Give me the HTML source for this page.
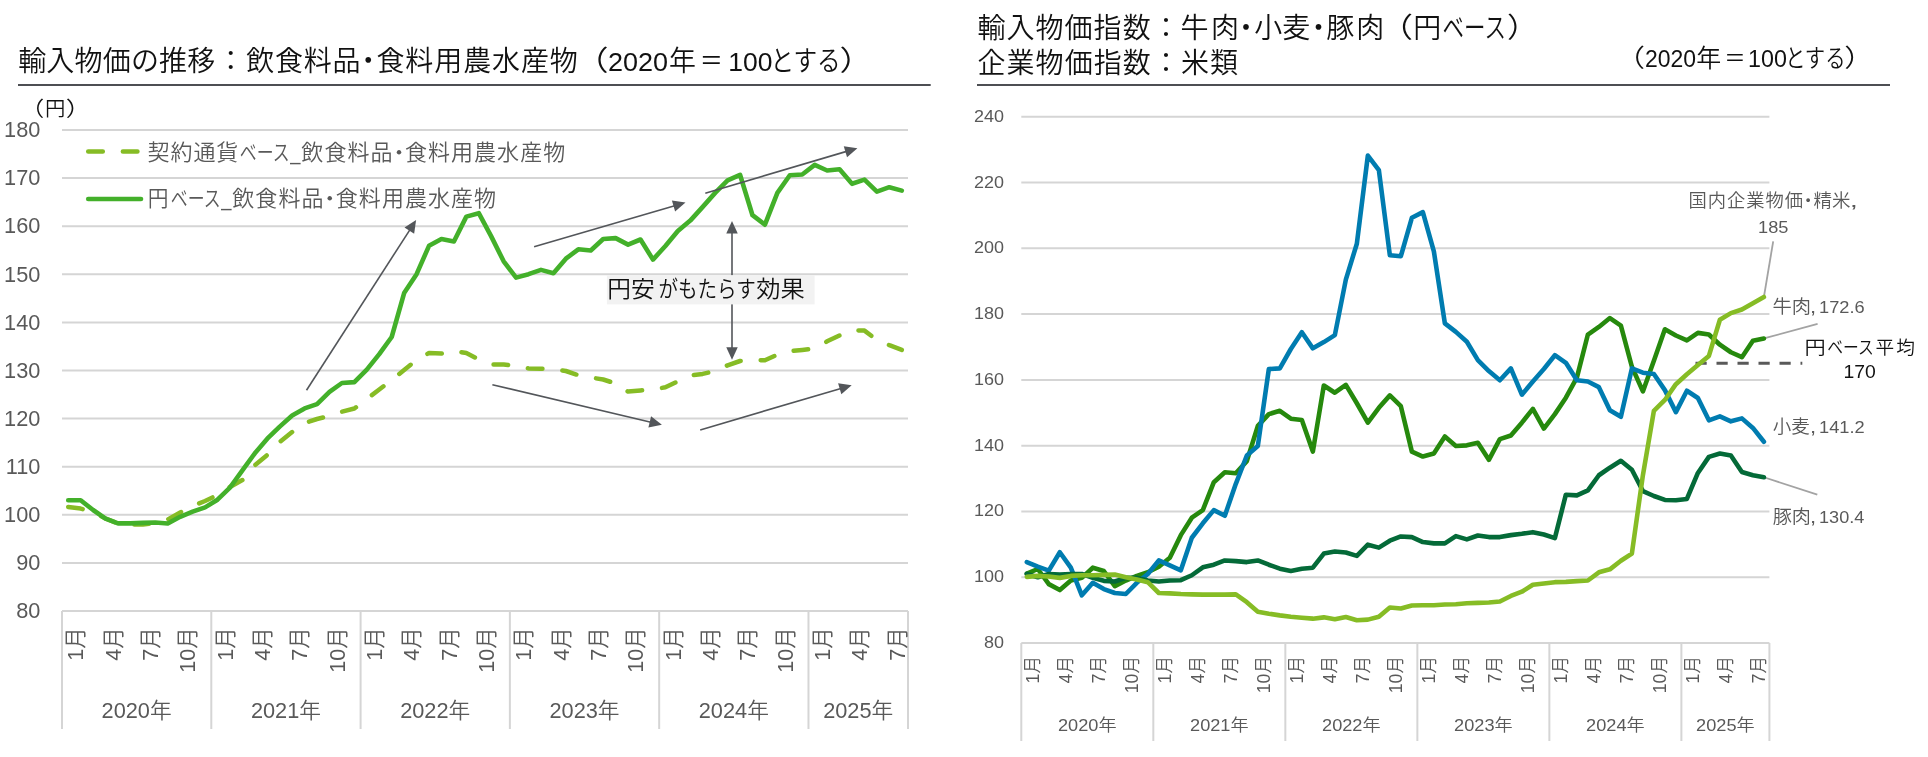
<!DOCTYPE html>
<html lang="ja"><head><meta charset="utf-8"><title>輸入物価の推移</title>
<style>html,body{margin:0;padding:0;background:#fff;}body{width:1928px;height:757px;overflow:hidden;}svg{display:block;font-family:'Liberation Sans', 'Noto Sans CJK JP', sans-serif;font-weight:350;will-change:transform;}</style></head><body>
<svg width="1928" height="757" viewBox="0 0 1928 757">
<rect width="1928" height="757" fill="#ffffff"/>
<text transform="translate(18.18 70.7)" font-size="28" fill="#111111" letter-spacing="0.188">輸入物価の推移</text>
<text transform="translate(216.7 70.7)" font-size="28" fill="#111111">：</text>
<text transform="translate(246.24 70.7)" font-size="28" fill="#111111" letter-spacing="0.718">飲食料品</text>
<text transform="translate(354.2 70.7)" font-size="28" fill="#111111">・</text>
<text transform="translate(376.48 70.7)" font-size="28" fill="#111111" letter-spacing="0.884">食料用農水産物</text>
<text transform="translate(574.49 70.7) scale(1.2185 1)" font-size="28" fill="#111111">（</text>
<text transform="translate(608.05 70.7) scale(1.0123 1)" font-size="26.67" fill="#111111">2020</text>
<text transform="translate(669.05 70.7) scale(0.9629 1)" font-size="28" fill="#111111">年</text>
<text transform="translate(699.77 70.7) scale(0.8268 1)" font-size="28" fill="#111111">＝</text>
<text transform="translate(728.31 70.7) scale(0.9927 1)" font-size="26.67" fill="#111111">100</text>
<text transform="translate(770.47 70.7) scale(0.8447 1)" font-size="28" fill="#111111">とする</text>
<text transform="translate(839.39 70.7) scale(1.2185 1)" font-size="28" fill="#111111">）</text>
<line x1="18" y1="85.1" x2="930.7" y2="85.1" stroke="#4d4f53" stroke-width="2"/>
<line x1="62" y1="130" x2="908" y2="130" stroke="#d5d5d5" stroke-width="2"/>
<line x1="62" y1="178.1" x2="908" y2="178.1" stroke="#d5d5d5" stroke-width="2"/>
<line x1="62" y1="226.2" x2="908" y2="226.2" stroke="#d5d5d5" stroke-width="2"/>
<line x1="62" y1="274.3" x2="908" y2="274.3" stroke="#d5d5d5" stroke-width="2"/>
<line x1="62" y1="322.4" x2="908" y2="322.4" stroke="#d5d5d5" stroke-width="2"/>
<line x1="62" y1="370.5" x2="908" y2="370.5" stroke="#d5d5d5" stroke-width="2"/>
<line x1="62" y1="418.6" x2="908" y2="418.6" stroke="#d5d5d5" stroke-width="2"/>
<line x1="62" y1="466.7" x2="908" y2="466.7" stroke="#d5d5d5" stroke-width="2"/>
<line x1="62" y1="514.8" x2="908" y2="514.8" stroke="#d5d5d5" stroke-width="2"/>
<line x1="62" y1="562.9" x2="908" y2="562.9" stroke="#d5d5d5" stroke-width="2"/>
<line x1="62" y1="611" x2="908" y2="611" stroke="#d5d5d5" stroke-width="2"/>
<line x1="62" y1="611" x2="62" y2="729" stroke="#d5d5d5" stroke-width="2"/>
<line x1="211.29" y1="611" x2="211.29" y2="729" stroke="#d5d5d5" stroke-width="2"/>
<line x1="360.59" y1="611" x2="360.59" y2="729" stroke="#d5d5d5" stroke-width="2"/>
<line x1="509.88" y1="611" x2="509.88" y2="729" stroke="#d5d5d5" stroke-width="2"/>
<line x1="659.18" y1="611" x2="659.18" y2="729" stroke="#d5d5d5" stroke-width="2"/>
<line x1="808.47" y1="611" x2="808.47" y2="729" stroke="#d5d5d5" stroke-width="2"/>
<line x1="908" y1="611" x2="908" y2="729" stroke="#d5d5d5" stroke-width="2"/>
<text transform="translate(40.4 137.2) scale(1.02 1)" font-size="21.33" fill="#595959" text-anchor="end">180</text>
<text transform="translate(40.4 185.3) scale(1.02 1)" font-size="21.33" fill="#595959" text-anchor="end">170</text>
<text transform="translate(40.4 233.4) scale(1.02 1)" font-size="21.33" fill="#595959" text-anchor="end">160</text>
<text transform="translate(40.4 281.5) scale(1.02 1)" font-size="21.33" fill="#595959" text-anchor="end">150</text>
<text transform="translate(40.4 329.6) scale(1.02 1)" font-size="21.33" fill="#595959" text-anchor="end">140</text>
<text transform="translate(40.4 377.7) scale(1.02 1)" font-size="21.33" fill="#595959" text-anchor="end">130</text>
<text transform="translate(40.4 425.8) scale(1.02 1)" font-size="21.33" fill="#595959" text-anchor="end">120</text>
<text transform="translate(40.4 473.9) scale(1.02 1)" font-size="21.33" fill="#595959" text-anchor="end">110</text>
<text transform="translate(40.4 522) scale(1.02 1)" font-size="21.33" fill="#595959" text-anchor="end">100</text>
<text transform="translate(40.4 570.1) scale(1.02 1)" font-size="21.33" fill="#595959" text-anchor="end">90</text>
<text transform="translate(40.4 618.2) scale(1.02 1)" font-size="21.33" fill="#595959" text-anchor="end">80</text>
<text transform="translate(19.9 115.5) scale(1.1860 1)" font-size="20.5" fill="#111111">（</text>
<text transform="translate(44.97 115.5) scale(0.9933 1)" font-size="20.5" fill="#111111">円</text>
<text transform="translate(65.73 115.5) scale(1.2434 1)" font-size="20.5" fill="#111111">）</text>
<text transform="translate(83.4 627.3) scale(1.02 1) rotate(-90)" font-size="21.5" fill="#595959" text-anchor="end">1月</text>
<text transform="translate(120.72 627.3) scale(1.02 1) rotate(-90)" font-size="21.5" fill="#595959" text-anchor="end">4月</text>
<text transform="translate(158.05 627.3) scale(1.02 1) rotate(-90)" font-size="21.5" fill="#595959" text-anchor="end">7月</text>
<text transform="translate(195.37 627.3) scale(1.02 1) rotate(-90)" font-size="21.5" fill="#595959" text-anchor="end">10月</text>
<text transform="translate(232.69 627.3) scale(1.02 1) rotate(-90)" font-size="21.5" fill="#595959" text-anchor="end">1月</text>
<text transform="translate(270.02 627.3) scale(1.02 1) rotate(-90)" font-size="21.5" fill="#595959" text-anchor="end">4月</text>
<text transform="translate(307.34 627.3) scale(1.02 1) rotate(-90)" font-size="21.5" fill="#595959" text-anchor="end">7月</text>
<text transform="translate(344.66 627.3) scale(1.02 1) rotate(-90)" font-size="21.5" fill="#595959" text-anchor="end">10月</text>
<text transform="translate(381.99 627.3) scale(1.02 1) rotate(-90)" font-size="21.5" fill="#595959" text-anchor="end">1月</text>
<text transform="translate(419.31 627.3) scale(1.02 1) rotate(-90)" font-size="21.5" fill="#595959" text-anchor="end">4月</text>
<text transform="translate(456.64 627.3) scale(1.02 1) rotate(-90)" font-size="21.5" fill="#595959" text-anchor="end">7月</text>
<text transform="translate(493.96 627.3) scale(1.02 1) rotate(-90)" font-size="21.5" fill="#595959" text-anchor="end">10月</text>
<text transform="translate(531.28 627.3) scale(1.02 1) rotate(-90)" font-size="21.5" fill="#595959" text-anchor="end">1月</text>
<text transform="translate(568.61 627.3) scale(1.02 1) rotate(-90)" font-size="21.5" fill="#595959" text-anchor="end">4月</text>
<text transform="translate(605.93 627.3) scale(1.02 1) rotate(-90)" font-size="21.5" fill="#595959" text-anchor="end">7月</text>
<text transform="translate(643.25 627.3) scale(1.02 1) rotate(-90)" font-size="21.5" fill="#595959" text-anchor="end">10月</text>
<text transform="translate(680.58 627.3) scale(1.02 1) rotate(-90)" font-size="21.5" fill="#595959" text-anchor="end">1月</text>
<text transform="translate(717.9 627.3) scale(1.02 1) rotate(-90)" font-size="21.5" fill="#595959" text-anchor="end">4月</text>
<text transform="translate(755.22 627.3) scale(1.02 1) rotate(-90)" font-size="21.5" fill="#595959" text-anchor="end">7月</text>
<text transform="translate(792.55 627.3) scale(1.02 1) rotate(-90)" font-size="21.5" fill="#595959" text-anchor="end">10月</text>
<text transform="translate(829.87 627.3) scale(1.02 1) rotate(-90)" font-size="21.5" fill="#595959" text-anchor="end">1月</text>
<text transform="translate(867.19 627.3) scale(1.02 1) rotate(-90)" font-size="21.5" fill="#595959" text-anchor="end">4月</text>
<text transform="translate(904.52 627.3) scale(1.02 1) rotate(-90)" font-size="21.5" fill="#595959" text-anchor="end">7月</text>
<text transform="translate(136.65 718) scale(1.02 1)" font-size="21.33" fill="#595959" text-anchor="middle">2020年</text>
<text transform="translate(285.94 718) scale(1.02 1)" font-size="21.33" fill="#595959" text-anchor="middle">2021年</text>
<text transform="translate(435.24 718) scale(1.02 1)" font-size="21.33" fill="#595959" text-anchor="middle">2022年</text>
<text transform="translate(584.53 718) scale(1.02 1)" font-size="21.33" fill="#595959" text-anchor="middle">2023年</text>
<text transform="translate(733.82 718) scale(1.02 1)" font-size="21.33" fill="#595959" text-anchor="middle">2024年</text>
<text transform="translate(858.24 718) scale(1.02 1)" font-size="21.33" fill="#595959" text-anchor="middle">2025年</text>
<polyline points="68.22,506.9 80.66,508.6 93.1,512 105.54,518.5 117.99,523.4 130.43,524.6 142.87,524.6 155.31,523 167.75,519.5 180.19,512.5 192.63,506 205.07,501 217.51,495 229.96,487 242.4,480 254.84,465.3 267.28,455 279.72,442 292.16,432 304.6,423 317.04,419 329.49,416 341.93,411.7 354.37,408.5 366.81,399 379.25,389.5 391.69,380 404.13,370 416.57,360 429.01,353 441.46,353.5 453.9,351 466.34,353 478.78,359.5 491.22,364.4 503.66,364.4 516.1,366 528.54,368.4 540.99,368.7 553.43,369 565.87,371 578.31,375.2 590.75,377.5 603.19,379.5 615.63,383.5 628.07,391.6 640.51,390.4 652.96,389.5 665.4,387.3 677.84,381.3 690.28,375.3 702.72,373.9 715.16,371 727.6,365.3 740.04,361 752.49,359.8 764.93,360.3 777.37,354.7 789.81,351.2 802.25,349.9 814.69,348.7 827.13,341.3 839.57,335.4 852.01,330.3 864.46,330.6 876.9,340 889.34,345.2 901.78,349.9" fill="none" stroke="#86BC25" stroke-width="4.5" stroke-linejoin="round" stroke-linecap="round" stroke-dasharray="14.6 20.05"/>
<polyline points="68.22,500.2 80.66,500.2 93.1,510 105.54,518.6 117.99,523.4 130.43,523.4 142.87,522.9 155.31,522.5 167.75,523.5 180.19,516.8 192.63,511.7 205.07,507.4 217.51,499.7 229.96,487.6 242.4,470.4 254.84,453.3 267.28,438.7 279.72,426.6 292.16,415.5 304.6,408.4 317.04,404.1 329.49,391.9 341.93,383 354.37,382.1 366.81,369.6 379.25,354.1 391.69,337 404.13,293.1 416.57,274.2 429.01,245.8 441.46,239 453.9,241.5 466.34,216.6 478.78,213.2 491.22,236.4 503.66,261.3 516.1,277.6 528.54,274.2 540.99,269.9 553.43,273.3 565.87,258.7 578.31,249.3 590.75,250.5 603.19,239 615.63,238.1 628.07,244.6 640.51,239.5 652.96,259.6 665.4,246 677.84,231 690.28,220.6 702.72,206.9 715.16,192.9 727.6,180.3 740.04,174.8 752.49,215.2 764.93,224.7 777.37,192.9 789.81,175.2 802.25,174.5 814.69,164.9 827.13,170.5 839.57,169.3 852.01,183.8 864.46,179.6 876.9,191.7 889.34,187.2 901.78,190.6" fill="none" stroke="#43B02A" stroke-width="4.6" stroke-linejoin="round" stroke-linecap="round"/>
<polyline points="88.2,151.4 138.4,151.4" fill="none" stroke="#86BC25" stroke-width="4.5" stroke-linejoin="round" stroke-linecap="round" stroke-dasharray="14.6 20.05"/>
<polyline points="88.2,199 141,199" fill="none" stroke="#43B02A" stroke-width="4.6" stroke-linejoin="round" stroke-linecap="round"/>
<text transform="translate(147.62 159.9)" font-size="22" fill="#595959" letter-spacing="0.895">契約通貨</text>
<text transform="translate(239.87 159.9) scale(0.7682 1)" font-size="22" fill="#595959">ベース</text>
<text transform="translate(290.27 159.9) scale(0.8307 1)" font-size="22" fill="#595959">_</text>
<text transform="translate(301.36 159.9)" font-size="22" fill="#595959" letter-spacing="1.062">飲食料品</text>
<text transform="translate(387.9 159.9)" font-size="22" fill="#595959">・</text>
<text transform="translate(404.92 159.9)" font-size="22" fill="#595959" letter-spacing="1.045">食料用農水産物</text>
<text transform="translate(147.83 206.3) scale(0.9421 1)" font-size="22" fill="#595959">円</text>
<text transform="translate(170.77 206.3) scale(0.7682 1)" font-size="22" fill="#595959">ベース</text>
<text transform="translate(221.17 206.3) scale(0.8307 1)" font-size="22" fill="#595959">_</text>
<text transform="translate(232.26 206.3)" font-size="22" fill="#595959" letter-spacing="1.062">飲食料品</text>
<text transform="translate(318.8 206.3)" font-size="22" fill="#595959">・</text>
<text transform="translate(335.82 206.3)" font-size="22" fill="#595959" letter-spacing="1.045">食料用農水産物</text>
<line x1="306.5" y1="390.2" x2="410.01" y2="229.56" stroke="#53565A" stroke-width="1.6"/>
<polygon points="416.1,220.1 414.16,233.72 404.5,227.49" fill="#53565A"/>
<line x1="534.1" y1="246.7" x2="674.7" y2="205.65" stroke="#53565A" stroke-width="1.6"/>
<polygon points="685.5,202.5 675.11,211.52 671.89,200.48" fill="#53565A"/>
<line x1="705.3" y1="193.2" x2="846.61" y2="151.39" stroke="#53565A" stroke-width="1.6"/>
<polygon points="857.4,148.2 847.04,157.26 843.78,146.23" fill="#53565A"/>
<line x1="492.4" y1="384.7" x2="650.95" y2="422.21" stroke="#53565A" stroke-width="1.6"/>
<polygon points="661.9,424.8 648.41,427.52 651.06,416.33" fill="#53565A"/>
<line x1="700.2" y1="429.9" x2="840.91" y2="388.48" stroke="#53565A" stroke-width="1.6"/>
<polygon points="851.7,385.3 841.33,394.35 838.08,383.31" fill="#53565A"/>
<line x1="732" y1="232.25" x2="732" y2="348.45" stroke="#53565A" stroke-width="1.6"/>
<polygon points="732,359.7 726.25,347.2 737.75,347.2" fill="#53565A"/>
<polygon points="732,221 726.25,233.5 737.75,233.5" fill="#53565A"/>
<rect x="606.9" y="275.1" width="207.7" height="29.3" fill="#f2f2f2"/>
<text transform="translate(607.27 296.9) scale(1.0589 1)" font-size="22.4" fill="#111111">円安</text>
<text transform="translate(658.43 296.9) scale(0.8726 1)" font-size="22.4" fill="#111111">がもたらす</text>
<text transform="translate(756.17 296.9) scale(1.0848 1)" font-size="22.4" fill="#111111">効果</text>
<text transform="translate(977.48 37.6)" font-size="28" fill="#111111" letter-spacing="1.030">輸入物価指数</text>
<text transform="translate(1152.1 37.6)" font-size="28" fill="#111111">：</text>
<text transform="translate(1180.5 37.6)" font-size="28" fill="#111111" letter-spacing="2.558">牛肉</text>
<text transform="translate(1232 37.6)" font-size="28" fill="#111111">・</text>
<text transform="translate(1254.22 37.6)" font-size="28" fill="#111111" letter-spacing="0.058">小麦</text>
<text transform="translate(1304.4 37.6)" font-size="28" fill="#111111">・</text>
<text transform="translate(1326.32 37.6)" font-size="28" fill="#111111" letter-spacing="1.838">豚肉</text>
<text transform="translate(1378.99 37.6) scale(1.2185 1)" font-size="28" fill="#111111">（</text>
<text transform="translate(1413.18 37.6)" font-size="28" fill="#111111">円</text>
<text transform="translate(1442.52 37.6) scale(0.7671 1)" font-size="28" fill="#111111">ベース</text>
<text transform="translate(1506.91 37.6) scale(1.1345 1)" font-size="28" fill="#111111">）</text>
<text transform="translate(977.62 72.8)" font-size="28" fill="#111111" letter-spacing="1.002">企業物価指数</text>
<text transform="translate(1152.1 72.8)" font-size="28" fill="#111111">：</text>
<text transform="translate(1180.92 72.8)" font-size="28" fill="#111111" letter-spacing="0.978">米類</text>
<text transform="translate(1615.29 66.6) scale(1.2018 1)" font-size="24.8" fill="#111111">（</text>
<text transform="translate(1644.95 66.6) scale(0.9569 1)" font-size="24" fill="#111111">2020</text>
<text transform="translate(1696.35 66.6) scale(1.0070 1)" font-size="24.8" fill="#111111">年</text>
<text transform="translate(1724.32 66.6) scale(0.8617 1)" font-size="24.8" fill="#111111">＝</text>
<text transform="translate(1748.05 66.6) scale(0.9716 1)" font-size="24" fill="#111111">100</text>
<text transform="translate(1785.13 66.6) scale(0.8201 1)" font-size="24.8" fill="#111111">とする</text>
<text transform="translate(1844.21 66.6) scale(1.2018 1)" font-size="24.8" fill="#111111">）</text>
<line x1="977" y1="85.1" x2="1890" y2="85.1" stroke="#4d4f53" stroke-width="2"/>
<line x1="1021.3" y1="116.8" x2="1769.4" y2="116.8" stroke="#d5d5d5" stroke-width="2"/>
<line x1="1021.3" y1="182.57" x2="1769.4" y2="182.57" stroke="#d5d5d5" stroke-width="2"/>
<line x1="1021.3" y1="248.35" x2="1769.4" y2="248.35" stroke="#d5d5d5" stroke-width="2"/>
<line x1="1021.3" y1="314.12" x2="1769.4" y2="314.12" stroke="#d5d5d5" stroke-width="2"/>
<line x1="1021.3" y1="379.9" x2="1769.4" y2="379.9" stroke="#d5d5d5" stroke-width="2"/>
<line x1="1021.3" y1="445.68" x2="1769.4" y2="445.68" stroke="#d5d5d5" stroke-width="2"/>
<line x1="1021.3" y1="511.45" x2="1769.4" y2="511.45" stroke="#d5d5d5" stroke-width="2"/>
<line x1="1021.3" y1="577.23" x2="1769.4" y2="577.23" stroke="#d5d5d5" stroke-width="2"/>
<line x1="1021.3" y1="643" x2="1769.4" y2="643" stroke="#d5d5d5" stroke-width="2"/>
<line x1="1021.3" y1="643" x2="1021.3" y2="741" stroke="#d5d5d5" stroke-width="2"/>
<line x1="1153.32" y1="643" x2="1153.32" y2="741" stroke="#d5d5d5" stroke-width="2"/>
<line x1="1285.34" y1="643" x2="1285.34" y2="741" stroke="#d5d5d5" stroke-width="2"/>
<line x1="1417.35" y1="643" x2="1417.35" y2="741" stroke="#d5d5d5" stroke-width="2"/>
<line x1="1549.37" y1="643" x2="1549.37" y2="741" stroke="#d5d5d5" stroke-width="2"/>
<line x1="1681.39" y1="643" x2="1681.39" y2="741" stroke="#d5d5d5" stroke-width="2"/>
<line x1="1769.4" y1="643" x2="1769.4" y2="741" stroke="#d5d5d5" stroke-width="2"/>
<text transform="translate(1004 121.75) scale(1.06 1)" font-size="17" fill="#595959" text-anchor="end">240</text>
<text transform="translate(1004 187.52) scale(1.06 1)" font-size="17" fill="#595959" text-anchor="end">220</text>
<text transform="translate(1004 253.3) scale(1.06 1)" font-size="17" fill="#595959" text-anchor="end">200</text>
<text transform="translate(1004 319.07) scale(1.06 1)" font-size="17" fill="#595959" text-anchor="end">180</text>
<text transform="translate(1004 384.85) scale(1.06 1)" font-size="17" fill="#595959" text-anchor="end">160</text>
<text transform="translate(1004 450.62) scale(1.06 1)" font-size="17" fill="#595959" text-anchor="end">140</text>
<text transform="translate(1004 516.4) scale(1.06 1)" font-size="17" fill="#595959" text-anchor="end">120</text>
<text transform="translate(1004 582.18) scale(1.06 1)" font-size="17" fill="#595959" text-anchor="end">100</text>
<text transform="translate(1004 647.95) scale(1.06 1)" font-size="17" fill="#595959" text-anchor="end">80</text>
<text transform="translate(1038.5 656) scale(1.06 1) rotate(-90)" font-size="17.6" fill="#595959" text-anchor="end">1月</text>
<text transform="translate(1071.5 656) scale(1.06 1) rotate(-90)" font-size="17.6" fill="#595959" text-anchor="end">4月</text>
<text transform="translate(1104.51 656) scale(1.06 1) rotate(-90)" font-size="17.6" fill="#595959" text-anchor="end">7月</text>
<text transform="translate(1137.51 656) scale(1.06 1) rotate(-90)" font-size="17.6" fill="#595959" text-anchor="end">10月</text>
<text transform="translate(1170.52 656) scale(1.06 1) rotate(-90)" font-size="17.6" fill="#595959" text-anchor="end">1月</text>
<text transform="translate(1203.52 656) scale(1.06 1) rotate(-90)" font-size="17.6" fill="#595959" text-anchor="end">4月</text>
<text transform="translate(1236.53 656) scale(1.06 1) rotate(-90)" font-size="17.6" fill="#595959" text-anchor="end">7月</text>
<text transform="translate(1269.53 656) scale(1.06 1) rotate(-90)" font-size="17.6" fill="#595959" text-anchor="end">10月</text>
<text transform="translate(1302.54 656) scale(1.06 1) rotate(-90)" font-size="17.6" fill="#595959" text-anchor="end">1月</text>
<text transform="translate(1335.54 656) scale(1.06 1) rotate(-90)" font-size="17.6" fill="#595959" text-anchor="end">4月</text>
<text transform="translate(1368.54 656) scale(1.06 1) rotate(-90)" font-size="17.6" fill="#595959" text-anchor="end">7月</text>
<text transform="translate(1401.55 656) scale(1.06 1) rotate(-90)" font-size="17.6" fill="#595959" text-anchor="end">10月</text>
<text transform="translate(1434.55 656) scale(1.06 1) rotate(-90)" font-size="17.6" fill="#595959" text-anchor="end">1月</text>
<text transform="translate(1467.56 656) scale(1.06 1) rotate(-90)" font-size="17.6" fill="#595959" text-anchor="end">4月</text>
<text transform="translate(1500.56 656) scale(1.06 1) rotate(-90)" font-size="17.6" fill="#595959" text-anchor="end">7月</text>
<text transform="translate(1533.57 656) scale(1.06 1) rotate(-90)" font-size="17.6" fill="#595959" text-anchor="end">10月</text>
<text transform="translate(1566.57 656) scale(1.06 1) rotate(-90)" font-size="17.6" fill="#595959" text-anchor="end">1月</text>
<text transform="translate(1599.58 656) scale(1.06 1) rotate(-90)" font-size="17.6" fill="#595959" text-anchor="end">4月</text>
<text transform="translate(1632.58 656) scale(1.06 1) rotate(-90)" font-size="17.6" fill="#595959" text-anchor="end">7月</text>
<text transform="translate(1665.58 656) scale(1.06 1) rotate(-90)" font-size="17.6" fill="#595959" text-anchor="end">10月</text>
<text transform="translate(1698.59 656) scale(1.06 1) rotate(-90)" font-size="17.6" fill="#595959" text-anchor="end">1月</text>
<text transform="translate(1731.59 656) scale(1.06 1) rotate(-90)" font-size="17.6" fill="#595959" text-anchor="end">4月</text>
<text transform="translate(1764.6 656) scale(1.06 1) rotate(-90)" font-size="17.6" fill="#595959" text-anchor="end">7月</text>
<text transform="translate(1087.31 731.3) scale(1.07 1)" font-size="17" fill="#595959" text-anchor="middle">2020年</text>
<text transform="translate(1219.33 731.3) scale(1.07 1)" font-size="17" fill="#595959" text-anchor="middle">2021年</text>
<text transform="translate(1351.34 731.3) scale(1.07 1)" font-size="17" fill="#595959" text-anchor="middle">2022年</text>
<text transform="translate(1483.36 731.3) scale(1.07 1)" font-size="17" fill="#595959" text-anchor="middle">2023年</text>
<text transform="translate(1615.38 731.3) scale(1.07 1)" font-size="17" fill="#595959" text-anchor="middle">2024年</text>
<text transform="translate(1725.39 731.3) scale(1.07 1)" font-size="17" fill="#595959" text-anchor="middle">2025年</text>
<line x1="1695.5" y1="363.3" x2="1802.3" y2="363.3" stroke="#595959" stroke-width="3" stroke-dasharray="11.2 9.8"/>
<line x1="1763.9" y1="297.02" x2="1773.2" y2="241.3" stroke="#a3a3a3" stroke-width="1.8"/>
<line x1="1763.9" y1="338.46" x2="1817.6" y2="323.9" stroke="#a3a3a3" stroke-width="1.8"/>
<line x1="1763.9" y1="477.25" x2="1817.3" y2="494.6" stroke="#a3a3a3" stroke-width="1.8"/>
<polyline points="1026.8,573.61 1037.8,569 1048.8,584.13 1059.81,590.05 1070.81,580.51 1081.81,577.88 1092.81,567.69 1103.81,570.98 1114.81,586.1 1125.81,580.51 1136.82,575.91 1147.82,572.29 1158.82,566.7 1169.82,557.82 1180.82,535.13 1191.82,517.7 1202.82,510.13 1213.83,482.18 1224.83,472.31 1235.83,473.3 1246.83,461.13 1257.83,425.94 1268.83,414.1 1279.83,410.81 1290.84,418.71 1301.84,420.02 1312.84,451.59 1323.84,385.49 1334.84,392.73 1345.84,384.83 1356.84,403.25 1367.85,422.65 1378.85,407.85 1389.85,395.36 1400.85,406.21 1411.85,451.59 1422.85,456.53 1433.86,453.57 1444.86,436.47 1455.86,446 1466.86,445.35 1477.86,442.72 1488.86,459.82 1499.86,439.1 1510.87,435.48 1521.87,422.65 1532.87,408.84 1543.87,428.57 1554.87,414.1 1565.87,397.66 1576.87,377.6 1587.88,334.52 1598.88,326.95 1609.88,318.07 1620.88,325.64 1631.88,366.75 1642.88,391.41 1653.88,360.83 1664.89,329.25 1675.89,335.5 1686.89,340.44 1697.89,332.87 1708.89,334.52 1719.89,344.71 1730.89,352.27 1741.9,357.21 1752.9,340.76 1763.9,338.46" fill="none" stroke="#26890D" stroke-width="4.6" stroke-linejoin="round" stroke-linecap="round"/>
<polyline points="1026.8,562.1 1037.8,566.7 1048.8,570.65 1059.81,552.23 1070.81,567.69 1081.81,595.31 1092.81,582.82 1103.81,589.06 1114.81,593.01 1125.81,594 1136.82,582.82 1147.82,573.94 1158.82,560.45 1169.82,565.39 1180.82,570.32 1191.82,537.76 1202.82,523.29 1213.83,510.13 1224.83,515.73 1235.83,483.82 1246.83,455.54 1257.83,446 1268.83,369.05 1279.83,368.39 1290.84,348.99 1301.84,332.21 1312.84,348.33 1323.84,342.08 1334.84,335.17 1345.84,279.59 1356.84,243.75 1367.85,155.61 1378.85,170.08 1389.85,255.26 1400.85,256.24 1411.85,217.76 1422.85,212.17 1433.86,251.31 1444.86,323.33 1455.86,331.88 1466.86,341.75 1477.86,360.17 1488.86,371.02 1499.86,380.23 1510.87,368.39 1521.87,394.7 1532.87,381.54 1543.87,369.05 1554.87,355.23 1565.87,362.8 1576.87,380.23 1587.88,381.54 1598.88,387.14 1609.88,410.16 1620.88,416.73 1631.88,368.39 1642.88,372.66 1653.88,373.98 1664.89,390.1 1675.89,412.13 1686.89,390.75 1697.89,397.99 1708.89,420.35 1719.89,416.41 1730.89,421.34 1741.9,418.38 1752.9,427.92 1763.9,441.73" fill="none" stroke="#007CB0" stroke-width="4.6" stroke-linejoin="round" stroke-linecap="round"/>
<polyline points="1026.8,573.94 1037.8,577.23 1048.8,573.94 1059.81,574.59 1070.81,573.94 1081.81,573.94 1092.81,577.88 1103.81,580.84 1114.81,581.5 1125.81,577.88 1136.82,577.88 1147.82,580.51 1158.82,581.5 1169.82,580.51 1180.82,580.18 1191.82,575.25 1202.82,567.36 1213.83,564.73 1224.83,560.45 1235.83,561.11 1246.83,562.1 1257.83,560.45 1268.83,564.73 1279.83,568.67 1290.84,570.98 1301.84,568.67 1312.84,567.69 1323.84,553.55 1334.84,551.57 1345.84,552.56 1356.84,555.85 1367.85,544.67 1378.85,547.63 1389.85,540.72 1400.85,536.44 1411.85,537.1 1422.85,542.04 1433.86,543.35 1444.86,543.35 1455.86,536.12 1466.86,539.4 1477.86,535.46 1488.86,537.1 1499.86,537.1 1510.87,535.13 1521.87,533.81 1532.87,532.17 1543.87,534.47 1554.87,538.09 1565.87,494.68 1576.87,495.34 1587.88,490.4 1598.88,475.27 1609.88,467.71 1620.88,460.8 1631.88,469.68 1642.88,491.06 1653.88,495.99 1664.89,499.94 1675.89,500.27 1686.89,498.95 1697.89,472.97 1708.89,456.86 1719.89,453.57 1730.89,455.54 1741.9,471.99 1752.9,475.27 1763.9,477.25" fill="none" stroke="#046A38" stroke-width="4.6" stroke-linejoin="round" stroke-linecap="round"/>
<polyline points="1026.8,576.9 1037.8,575.91 1048.8,576.57 1059.81,577.88 1070.81,575.91 1081.81,575.25 1092.81,575.25 1103.81,574.92 1114.81,574.59 1125.81,577.23 1136.82,579.53 1147.82,582.16 1158.82,593.01 1169.82,593.34 1180.82,594 1191.82,594.33 1202.82,594.66 1213.83,594.66 1224.83,594.66 1235.83,594.33 1246.83,602.22 1257.83,611.76 1268.83,613.73 1279.83,615.37 1290.84,616.69 1301.84,617.68 1312.84,618.66 1323.84,617.35 1334.84,619.32 1345.84,617.02 1356.84,620.31 1367.85,619.65 1378.85,616.69 1389.85,607.48 1400.85,608.47 1411.85,605.51 1422.85,605.18 1433.86,605.18 1444.86,604.52 1455.86,604.19 1466.86,603.21 1477.86,602.88 1488.86,602.55 1499.86,601.56 1510.87,595.97 1521.87,591.7 1532.87,584.79 1543.87,583.47 1554.87,582.16 1565.87,581.83 1576.87,581.17 1587.88,580.51 1598.88,572.29 1609.88,569.33 1620.88,560.78 1631.88,553.55 1642.88,475.27 1653.88,410.81 1664.89,399.96 1675.89,384.18 1686.89,374.31 1697.89,365.1 1708.89,355.89 1719.89,319.72 1730.89,313.14 1741.9,309.52 1752.9,303.27 1763.9,297.02" fill="none" stroke="#86BC25" stroke-width="4.6" stroke-linejoin="round" stroke-linecap="round"/>
<text transform="translate(1688.54 206.6)" font-size="18.3" fill="#595959" letter-spacing="0.953">国内企業物価</text>
<text transform="translate(1798.95 206.5)" font-size="18.3" fill="#595959">・</text>
<text transform="translate(1813.44 206.5) scale(1.0110 1)" font-size="18.3" fill="#595959">精米</text>
<text transform="translate(1849.8 206.5) scale(1.6106 1)" font-size="18.3" fill="#595959">,</text>
<text transform="translate(1758.03 232.5) scale(1.1394 1)" font-size="16" fill="#595959">185</text>
<text transform="translate(1772.44 312.6) scale(1.0546 1)" font-size="18.3" fill="#595959">牛肉</text>
<text transform="translate(1809.9 312.6) scale(1.2079 1)" font-size="18.3" fill="#595959">,</text>
<text transform="translate(1819.03 312.6) scale(1.0720 1)" font-size="17" fill="#595959">172.6</text>
<text transform="translate(1772.75 432.7) scale(1.0136 1)" font-size="18.3" fill="#595959">小麦</text>
<text transform="translate(1809.9 432.7) scale(1.2079 1)" font-size="18.3" fill="#595959">,</text>
<text transform="translate(1819.03 432.7) scale(1.0743 1)" font-size="17" fill="#595959">141.2</text>
<text transform="translate(1772.73 522.6) scale(1.0461 1)" font-size="18.3" fill="#595959">豚肉</text>
<text transform="translate(1809.9 522.6) scale(1.2079 1)" font-size="18.3" fill="#595959">,</text>
<text transform="translate(1819.04 522.6) scale(1.0653 1)" font-size="17" fill="#595959">130.4</text>
<text transform="translate(1804.49 353.6) scale(1.1362 1)" font-size="18.67" fill="#111111">円</text>
<text transform="translate(1827.23 353.6) scale(0.8449 1)" font-size="18.67" fill="#111111">ベース</text>
<text transform="translate(1875.47 353.6)" font-size="18.67" fill="#111111" letter-spacing="2.019">平均</text>
<text transform="translate(1843.45 378.4) scale(1.0772 1)" font-size="18" fill="#111111">170</text>
</svg></body></html>
